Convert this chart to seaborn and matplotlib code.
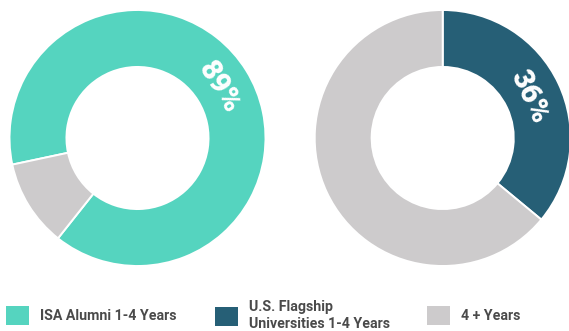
import matplotlib
matplotlib.use("Agg")
import matplotlib.pyplot as plt
import numpy as np
import seaborn as sns
from matplotlib.patches import Patch

sns.set_theme(style="white")
plt.rcParams["font.family"] = ["Roboto", "DejaVu Sans"]

# Share of graduates finishing within 1-4 years vs. taking 4+ years
groups = ["ISA Alumni 1-4 Years", "U.S. Flagship\nUniversities 1-4 Years"]
on_time_pct = [89, 36]
longer_label = "4 + Years"

teal = "#55D4BF"
navy = "#265F76"
grey = "#CDCBCC"
group_colors = [teal, navy]
start_angles = [192, 90]   # where the 1-4 year wedge begins (degrees, clockwise)

fig = plt.figure(figsize=(5.69, 3.31), dpi=100)

W, H = 569, 331
R = 128
centers = [(137.5, 138), (442.7, 138)]

for (cx, cy), pct, col, start in zip(centers, on_time_pct, group_colors, start_angles):
    ax = fig.add_axes([(cx - R) / W, (H - cy - R) / H, 2 * R / W, 2 * R / H])
    vals = [pct, 100 - pct]
    ax.pie(vals, colors=[col, grey], startangle=start, counterclock=False,
           radius=1.0,
           wedgeprops=dict(width=0.445, edgecolor="white", linewidth=1.4))
    # percentage label placed at the middle of the highlighted wedge
    mid = start - pct / 100 * 360 / 2
    rr = 0.75
    ax.text(rr * np.cos(np.radians(mid)), rr * np.sin(np.radians(mid)), f"{pct}%",
            rotation=mid - 90, rotation_mode="anchor", ha="center", va="center",
            color="white", fontsize=21, fontweight="heavy")
    ax.set_xlim(-1, 1)
    ax.set_ylim(-1, 1)
    ax.set_aspect("equal")
    ax.axis("off")

# legend entries, each placed under its own column
legend_items = [(groups[0], teal, 6), (groups[1], navy, 215), (longer_label, grey, 427)]
for text, col, x in legend_items:
    fig.legend(handles=[Patch(facecolor=col, edgecolor="none", label=text)],
               loc="center left", bbox_to_anchor=(x / W, 1 - 315.5 / H),
               frameon=False, borderpad=0, borderaxespad=0,
               handlelength=1.6, handleheight=1.7, handletextpad=0.8,
               prop=dict(family="Roboto", weight="bold", size=10.2),
               labelcolor="#4a4a4a", labelspacing=0.25)

fig.savefig("out.png", dpi=100)
